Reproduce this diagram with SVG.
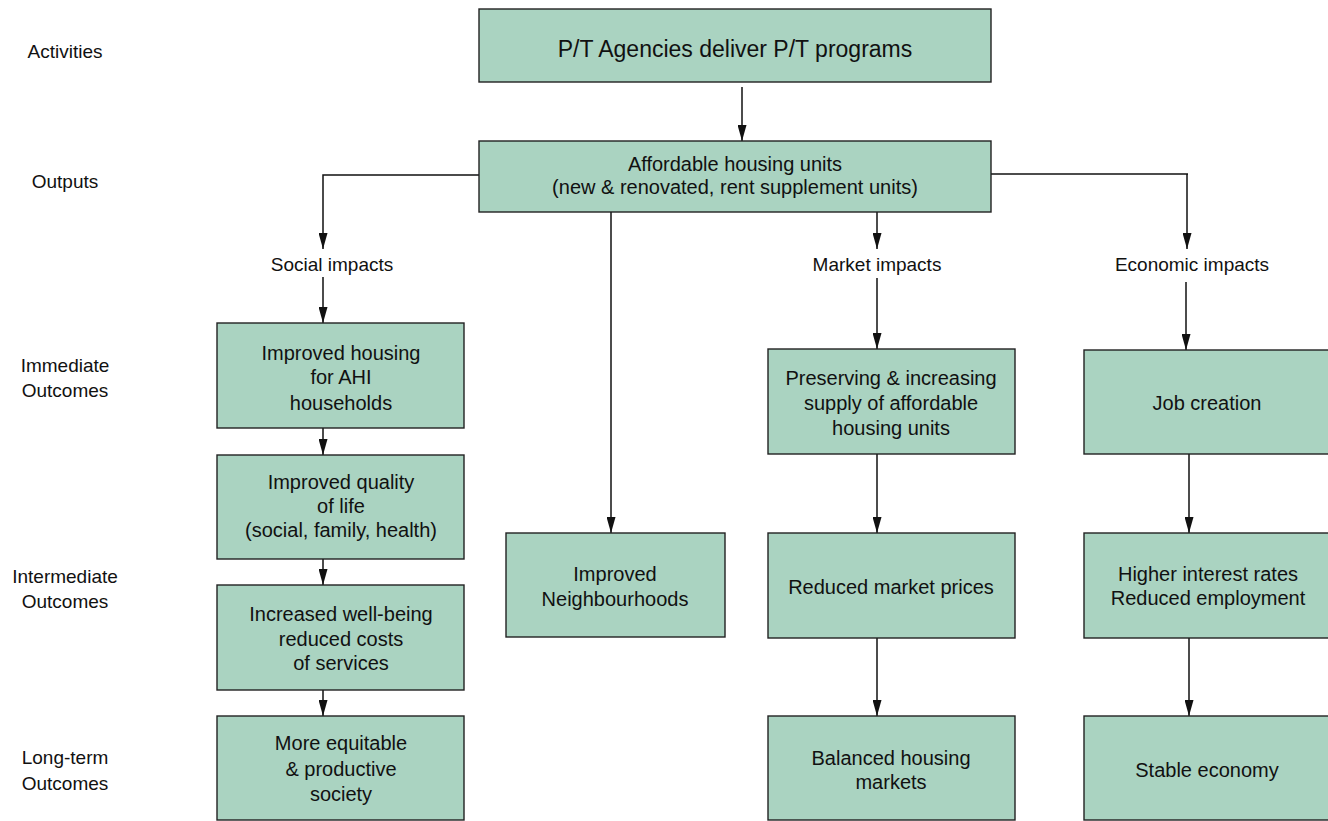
<svg xmlns="http://www.w3.org/2000/svg" width="1328" height="821" viewBox="0 0 1328 821">
<style>
text{font-family:"Liberation Sans",Arial,sans-serif;fill:#111;text-anchor:middle}
.lbl{font-size:19px}
.bt{font-size:20px}
.box{fill:#aad3c1;stroke:#222;stroke-width:1.4}
.con{fill:none;stroke:#111;stroke-width:1.5}
</style>
<defs>
<marker id="ah" viewBox="0 0 16 9" refX="16" refY="4.5" markerWidth="16" markerHeight="9" markerUnits="userSpaceOnUse" orient="auto">
<path d="M0,0 L16,4.5 L0,9 z" fill="#111"/>
</marker>
</defs>
<rect width="1328" height="821" fill="#fff"/>

<g id="row-labels" class="lbl">
<text x="65" y="58">Activities</text>
<text x="65" y="188">Outputs</text>
<text x="65" y="372">Immediate</text>
<text x="65" y="397">Outcomes</text>
<text x="65" y="583">Intermediate</text>
<text x="65" y="608">Outcomes</text>
<text x="65" y="764">Long-term</text>
<text x="65" y="790">Outcomes</text>
</g>

<g id="impact-labels" class="lbl">
<text x="332" y="271">Social impacts</text>
<text x="877" y="271">Market impacts</text>
<text x="1192" y="271">Economic impacts</text>
</g>

<g id="connectors" class="con">
<line x1="742" y1="87" x2="742" y2="141" marker-end="url(#ah)"/>
<polyline points="479,175 323,175 323,249" marker-end="url(#ah)"/>
<line x1="323" y1="277" x2="323" y2="323" marker-end="url(#ah)"/>
<line x1="323" y1="428" x2="323" y2="455" marker-end="url(#ah)"/>
<line x1="323" y1="559" x2="323" y2="585" marker-end="url(#ah)"/>
<line x1="323" y1="690" x2="323" y2="716" marker-end="url(#ah)"/>
<line x1="611" y1="212" x2="611" y2="533" marker-end="url(#ah)"/>
<line x1="877" y1="212" x2="877" y2="249" marker-end="url(#ah)"/>
<line x1="877" y1="278" x2="877" y2="349" marker-end="url(#ah)"/>
<line x1="877" y1="454" x2="877" y2="533" marker-end="url(#ah)"/>
<line x1="877" y1="638" x2="877" y2="716" marker-end="url(#ah)"/>
<polyline points="991,174 1188,174" />
<line x1="1187" y1="174" x2="1187" y2="249" marker-end="url(#ah)"/>
<line x1="1186" y1="282" x2="1186" y2="350" marker-end="url(#ah)"/>
<line x1="1189" y1="454" x2="1189" y2="533" marker-end="url(#ah)"/>
<line x1="1189" y1="638" x2="1189" y2="716" marker-end="url(#ah)"/>
</g>

<g id="n-activities">
<rect class="box" x="479" y="9" width="512" height="73"/>
<text x="735" y="57" style="font-size:23px">P/T Agencies deliver P/T programs</text>
</g>
<g id="n-outputs" class="bt">
<rect class="box" x="479" y="141" width="512" height="71"/>
<text x="735" y="171">Affordable housing units</text>
<text x="735" y="194">(new &amp; renovated, rent supplement units)</text>
</g>

<g id="n-improved-housing" class="bt">
<rect class="box" x="217" y="323" width="247" height="105"/>
<text x="341" y="360">Improved housing</text>
<text x="341" y="384">for AHI</text>
<text x="341" y="410">households</text>
</g>
<g id="n-quality-of-life" class="bt">
<rect class="box" x="217" y="455" width="247" height="104"/>
<text x="341" y="489">Improved quality</text>
<text x="341" y="513">of life</text>
<text x="341" y="537">(social, family, health)</text>
</g>
<g id="n-well-being" class="bt">
<rect class="box" x="217" y="585" width="247" height="105"/>
<text x="341" y="621">Increased well-being</text>
<text x="341" y="646">reduced costs</text>
<text x="341" y="670">of services</text>
</g>
<g id="n-equitable-society" class="bt">
<rect class="box" x="217" y="716" width="247" height="104"/>
<text x="341" y="750">More equitable</text>
<text x="341" y="776">&amp; productive</text>
<text x="341" y="801">society</text>
</g>

<g id="n-neighbourhoods" class="bt">
<rect class="box" x="506" y="533" width="219" height="104"/>
<text x="615" y="581">Improved</text>
<text x="615" y="606">Neighbourhoods</text>
</g>

<g id="n-supply" class="bt">
<rect class="box" x="768" y="349" width="247" height="105"/>
<text x="891" y="385">Preserving &amp; increasing</text>
<text x="891" y="410">supply of affordable</text>
<text x="891" y="435">housing units</text>
</g>
<g id="n-market-prices" class="bt">
<rect class="box" x="768" y="533" width="247" height="105"/>
<text x="891" y="594">Reduced market prices</text>
</g>
<g id="n-balanced-markets" class="bt">
<rect class="box" x="768" y="716" width="247" height="104"/>
<text x="891" y="765">Balanced housing</text>
<text x="891" y="789">markets</text>
</g>

<g id="n-job-creation" class="bt">
<rect class="box" x="1084" y="350" width="247" height="104"/>
<text x="1207" y="410">Job creation</text>
</g>
<g id="n-interest-rates" class="bt">
<rect class="box" x="1084" y="533" width="247" height="105"/>
<text x="1208" y="581">Higher interest rates</text>
<text x="1208" y="605">Reduced employment</text>
</g>
<g id="n-stable-economy" class="bt">
<rect class="box" x="1084" y="716" width="247" height="104"/>
<text x="1207" y="777">Stable economy</text>
</g>
</svg>
